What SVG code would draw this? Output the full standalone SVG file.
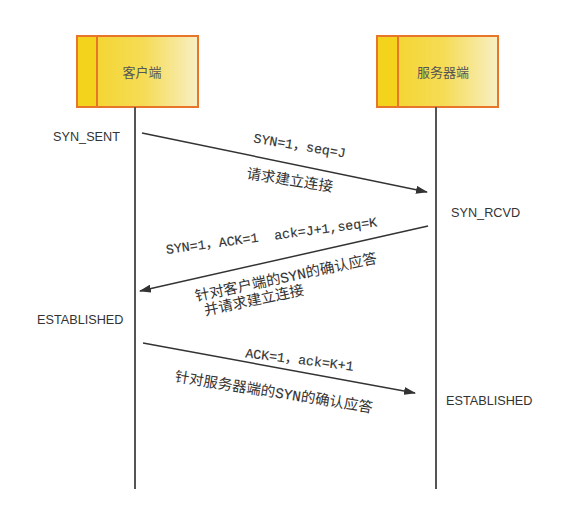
<svg xmlns="http://www.w3.org/2000/svg" width="561" height="508" viewBox="0 0 561 508">
<defs>
<linearGradient id="boxfill" x1="0" y1="0" x2="1" y2="0">
<stop offset="0" stop-color="#f4d326"/>
<stop offset="0.55" stop-color="#f5dc55"/>
<stop offset="1" stop-color="#f8efc4"/>
</linearGradient>
<marker id="arr" viewBox="0 0 12 8" refX="11" refY="4" markerWidth="12" markerHeight="8" markerUnits="userSpaceOnUse" orient="auto">
<path d="M0,0 L12,4 L0,8 Z" fill="#333"/>
</marker>
</defs>
<style>
.box{fill:url(#boxfill);stroke:#e8762a;stroke-width:2}
.strip{fill:#f4d31c;stroke:#e8762a;stroke-width:2}
.life{stroke:#555;stroke-width:2;fill:none}
.msg{stroke:#333;stroke-width:1.5;fill:none;marker-end:url(#arr)}
.title{font-family:"Noto Sans CJK SC","Liberation Sans",sans-serif;font-size:13px;fill:#555;text-anchor:middle}
.state{font-family:"Liberation Sans","Noto Sans CJK SC",sans-serif;font-size:12.7px;fill:#333}
.lbl{font-family:"Liberation Mono","Noto Sans CJK SC",monospace;font-size:13.3px;fill:#333;stroke:#333;stroke-width:0.15;text-anchor:middle;white-space:pre}
.cn{font-family:"Noto Sans CJK SC","Liberation Mono",sans-serif;font-size:14.5px;fill:#333;text-anchor:middle}
.mono{font-family:"Liberation Mono",monospace;stroke:#333;stroke-width:0.15}
</style>
<rect width="561" height="508" fill="#ffffff"/>
<g id="client">
<rect class="box" x="77" y="36" width="121" height="71"/>
<rect class="strip" x="77" y="36" width="20" height="71"/>
<text class="title" x="142" y="77">客户端</text>
</g>
<g id="server">
<rect class="box" x="377" y="36" width="121" height="71"/>
<rect class="strip" x="377" y="36" width="21" height="71"/>
<text class="title" x="443" y="77">服务器端</text>
</g>
<g id="lifelines">
<line class="life" x1="135" y1="107" x2="135" y2="489"/>
<line class="life" x1="436" y1="107" x2="436" y2="489"/>
</g>
<g id="states">
<text class="state" x="53" y="141">SYN_SENT</text>
<text class="state" x="451" y="217">SYN_RCVD</text>
<text class="state" x="37" y="324">ESTABLISHED</text>
<text class="state" x="446" y="405">ESTABLISHED</text>
</g>
<g id="connectors">
<line class="msg" x1="142" y1="133" x2="427" y2="192"/>
<line class="msg" x1="428" y1="226" x2="140" y2="291"/>
<line class="msg" x1="143" y1="343" x2="415" y2="393"/>
</g>
<g id="labels">
<text class="lbl" transform="translate(299,150) rotate(9.5)">SYN=1，seq=J</text>
<text class="cn" transform="translate(289,185) rotate(9)">请求建立连接</text>
<text class="lbl" xml:space="preserve" transform="translate(272,240) rotate(-7.5)">SYN=1，ACK=1  ack=J+1,seq=K</text>
<text class="cn" transform="translate(287,282) rotate(-12)">针对客户端的<tspan class="mono">SYN</tspan>的确认应答</text>
<text class="cn" transform="translate(255,305) rotate(-12)">并请求建立连接</text>
<text class="lbl" transform="translate(299,364) rotate(7)">ACK=1，ack=K+1</text>
<text class="cn" transform="translate(273,397) rotate(9)">针对服务器端的<tspan class="mono">SYN</tspan>的确认应答</text>
</g>
</svg>
